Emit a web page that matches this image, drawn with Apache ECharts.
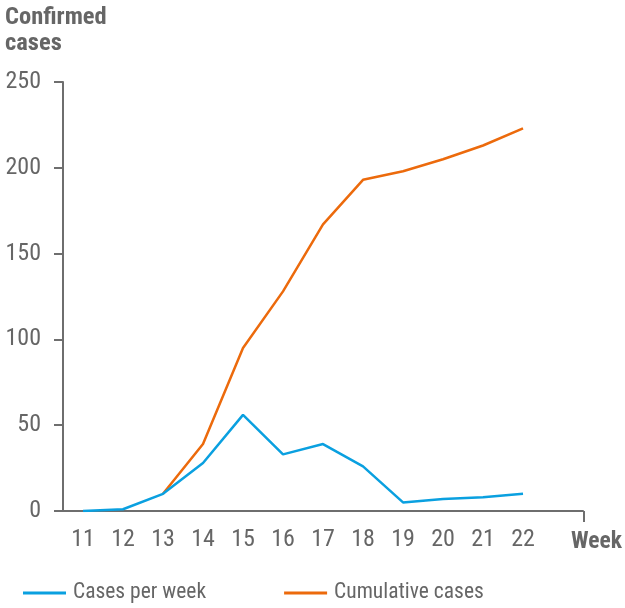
<!DOCTYPE html>
<html>
<head>
<meta charset="utf-8">
<script src="https://cdn.jsdelivr.net/npm/echarts@6/dist/echarts.min.js"></script>
<style>
html,body{margin:0;padding:0;background:#fff;}
#chart{width:625px;height:608px;}
</style>
</head>
<body>
<div id="chart"></div>
<script>
// Weekly confirmed cases and their running total
const weeks = ['11','12','13','14','15','16','17','18','19','20','21','22',''];
const casesPerWeek = [0, 1, 10, 28, 56, 33, 39, 26, 5, 7, 8, 10];
const cumulativeCases = [null, null, 10, 39, 95, 128, 167, 193, 198, 205, 213, 223];
const yTicks = [0, 50, 100, 150, 200, 250];

const FONT = '"Roboto Condensed", "Liberation Sans Narrow", "Roboto", sans-serif';
const GREY = '#666666';
const AXIS = '#6e6e6e';
const BLUE = '#0aa0e0';
const ORANGE = '#ec6a0c';

const gridLeft = 63, gridRight = 41, gridTop = 82, gridBottom = 97;
const W = 625, H = 608;

const chart = echarts.init(document.getElementById('chart'), null, {renderer: 'canvas'});
chart.setOption({
  animation: false,
  textStyle: {fontFamily: FONT},
  grid: {left: gridLeft, right: gridRight, top: gridTop, bottom: gridBottom, containLabel: false},
  title: {
    text: 'Confirmed\ncases',
    left: 5, top: 5, padding: 0,
    textStyle: {fontFamily: FONT, fontSize: 24.5, fontWeight: 'bold', color: GREY, lineHeight: 26}
  },
  legend: {
    bottom: 4, left: 23, padding: 0,
    itemGap: 78,
    itemWidth: 43, itemHeight: 3,
    icon: 'rect',
    textStyle: {fontFamily: FONT, fontSize: 21.5, color: GREY, padding: [0, 0, 0, 2]},
    data: ['Cases per week', 'Cumulative cases']
  },
  xAxis: {
    type: 'category',
    data: weeks,
    boundaryGap: true,
    name: 'Week',
    nameLocation: 'end',
    nameGap: -12,
    nameTextStyle: {fontFamily: FONT, fontSize: 23.5, fontWeight: 'bold', color: GREY, verticalAlign: 'top', padding: [19, 0, 0, 0]},
    axisLine: {lineStyle: {color: AXIS, width: 2}},
    axisTick: {show: false},
    axisLabel: {fontFamily: FONT, fontSize: 24, color: GREY, margin: 17, interval: 0}
  },
  yAxis: {
    type: 'value',
    min: yTicks[0],
    max: yTicks[yTicks.length - 1],
    interval: yTicks[1] - yTicks[0],
    axisLine: {show: true, lineStyle: {color: AXIS, width: 2}},
    axisTick: {show: true, length: 9, lineStyle: {color: AXIS, width: 2}},
    axisLabel: {fontFamily: FONT, fontSize: 24, color: GREY, margin: 22},
    splitLine: {show: false}
  },
  series: [
    {
      name: 'Cumulative cases',
      type: 'line',
      data: cumulativeCases,
      symbol: 'none',
      lineStyle: {color: ORANGE, width: 2.5},
      itemStyle: {color: ORANGE}
    },
    {
      name: 'Cases per week',
      type: 'line',
      data: casesPerWeek,
      symbol: 'none',
      lineStyle: {color: BLUE, width: 2.5},
      itemStyle: {color: BLUE}
    }
  ],
  graphic: [
    {
      // closing tick at the right end of the week axis
      type: 'line',
      shape: {x1: W - gridRight, y1: H - gridBottom, x2: W - gridRight, y2: H - gridBottom + 11},
      style: {stroke: AXIS, lineWidth: 2}
    }
  ]
});
</script>
</body>
</html>
